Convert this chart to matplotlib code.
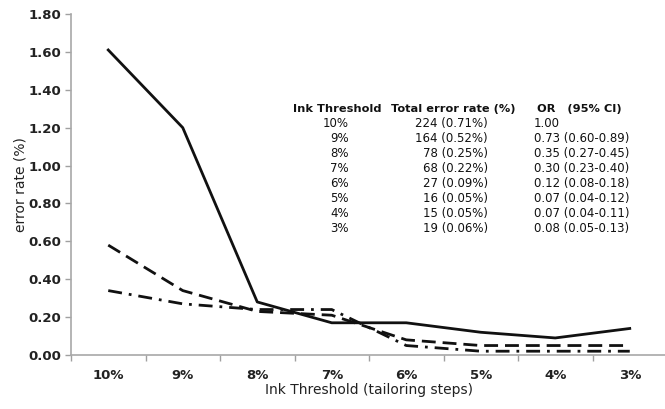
import numpy as np
import matplotlib
matplotlib.use('Agg')
import matplotlib.pyplot as plt
from matplotlib.ticker import FixedLocator, NullFormatter

# Chart data
thresholds = ['10%', '9%', '8%', '7%', '6%', '5%', '4%', '3%']
solid_rate = [1.61, 1.20, 0.28, 0.17, 0.17, 0.12, 0.09, 0.14]
dashed_rate = [0.58, 0.34, 0.23, 0.21, 0.08, 0.05, 0.05, 0.05]
dashdot_rate = [0.34, 0.27, 0.24, 0.24, 0.05, 0.02, 0.02, 0.02]

# Inset table data
table_thresholds = ['10%', '9%', '8%', '7%', '6%', '5%', '4%', '3%']
table_totals = ['224 (0.71%)', '164 (0.52%)', '78 (0.25%)', '68 (0.22%)',
                '27 (0.09%)', '16 (0.05%)', '15 (0.05%)', '19 (0.06%)']
table_or = ['1.00', '0.73 (0.60-0.89)', '0.35 (0.27-0.45)', '0.30 (0.23-0.40)',
            '0.12 (0.08-0.18)', '0.07 (0.04-0.12)', '0.07 (0.04-0.11)',
            '0.08 (0.05-0.13)']
table_headers = ['Ink Threshold', 'Total error rate (%)', 'OR   (95% CI)']

W, H = 665, 409
fig = plt.figure(figsize=(W / 100, H / 100), dpi=100)
ax = fig.add_axes([71 / W, 1 - 355 / H, (667 - 71) / W, (355 - 14) / H])

x = np.arange(len(thresholds))
ax.plot(x, solid_rate, color='#111111', linewidth=2.0, linestyle='-')
ax.plot(x, dashed_rate, color='#111111', linewidth=2.0, linestyle=(0, (5, 2.5)))
ax.plot(x, dashdot_rate, color='#111111', linewidth=2.0,
        linestyle=(0, (5, 2.5, 1, 2.5)))

ax.set_xlim(-0.5, len(thresholds) - 0.5)
ax.set_ylim(0, 1.8)
ax.set_yticks(np.arange(0, 1.81, 0.2))
ax.set_yticklabels([f'{v:.2f}' for v in np.arange(0, 1.81, 0.2)],
                   fontsize=9.5, fontweight='bold', color='#222222')

# category labels at centres, tick marks at boundaries
ax.set_xticks(x)
ax.set_xticklabels(thresholds, fontsize=9.5, fontweight='bold', color='#222222')
ax.xaxis.set_minor_locator(FixedLocator(np.arange(-0.5, len(thresholds), 1.0)))
ax.xaxis.set_minor_formatter(NullFormatter())
ax.tick_params(axis='x', which='major', length=0, pad=10)
ax.tick_params(axis='x', which='minor', length=4, color='#a0a0a0', width=1)
ax.tick_params(axis='y', length=4, color='#a0a0a0', width=1, pad=3)

for side in ['top', 'right']:
    ax.spines[side].set_visible(False)
for side in ['left', 'bottom']:
    ax.spines[side].set_color('#a8a8a8')
    ax.spines[side].set_linewidth(1.2)

ax.set_xlabel('Ink Threshold (tailoring steps)', fontsize=10, color='#222222',
              labelpad=1)
ax.set_ylabel('error rate (%)', fontsize=10, color='#222222', labelpad=1)

# Inset table (pixel positions converted to figure fraction)
def fx(px):
    return px / W

def fy(py):
    return 1 - py / H

hdr_y = 112
fig.text(fx(293), fy(hdr_y), table_headers[0], fontsize=8.2, fontweight='bold',
         ha='left', va='baseline', color='#111111')
fig.text(fx(391), fy(hdr_y), table_headers[1], fontsize=8.2, fontweight='bold',
         ha='left', va='baseline', color='#111111')
fig.text(fx(537), fy(hdr_y), table_headers[2], fontsize=8.2, fontweight='bold',
         ha='left', va='baseline', color='#111111')

row_y0, row_dy = 127, 15
for i in range(len(table_thresholds)):
    yy = fy(row_y0 + i * row_dy)
    fig.text(fx(349), yy, table_thresholds[i], fontsize=8.5, ha='right',
             va='baseline', color='#111111')
    fig.text(fx(488), yy, table_totals[i], fontsize=8.5, ha='right',
             va='baseline', color='#111111')
    fig.text(fx(534), yy, table_or[i], fontsize=8.5, ha='left',
             va='baseline', color='#111111')

fig.savefig('out.png', dpi=100)
